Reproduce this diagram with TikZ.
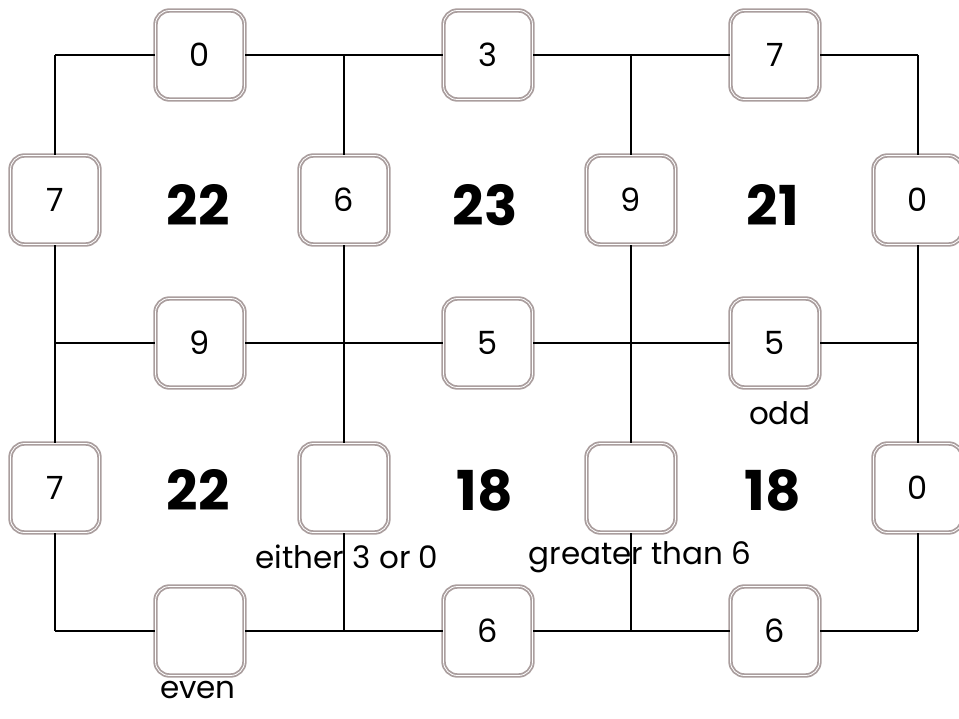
\documentclass[tikz,border=0pt]{standalone}
\usepackage{fontspec}
\setmainfont{Poppins}
\definecolor{boxgray}{RGB}{170,158,158}
\begin{document}
\begin{tikzpicture}[x=1pt,y=-1pt,
  cell/.style={draw=boxgray,double=white,line width=1.8pt,double distance=0.8pt,
    fill=white,rounded corners=14pt,minimum width=89pt,minimum height=89pt,
    inner sep=0pt,font=\fontsize{32}{32}\selectfont},
  total/.style={font=\fontsize{55}{55}\selectfont\bfseries},
  hint/.style={font=\fontsize{31}{31}\selectfont},
  wire/.style={line width=1.5pt,black}]
\useasboundingbox (0,0) rectangle (959,719);
% grid points
\foreach \i/\x in {0/55,1/344,2/631,3/918}
  \foreach \j/\y in {0/55,1/343,2/631}
    \coordinate (g\i\j) at (\x,\y);
% boxes
\node[cell] (t0) at (200,55) {0};
\node[cell] (t1) at (488,55) {3};
\node[cell] (t2) at (775,55) {7};
\node[cell] (m0) at (200,343) {9};
\node[cell] (m1) at (488,343) {5};
\node[cell] (m2) at (775,343) {5};
\node[cell] (b0) at (200,631) {};
\node[cell] (b1) at (488,631) {6};
\node[cell] (b2) at (775,631) {6};
\node[cell] (u0) at (55,200) {7};
\node[cell] (u1) at (344,200) {6};
\node[cell] (u2) at (631,200) {9};
\node[cell] (u3) at (918,200) {0};
\node[cell] (l0) at (55,488) {7};
\node[cell] (l1) at (344,488) {};
\node[cell] (l2) at (631,488) {};
\node[cell] (l3) at (918,488) {0};
% totals
\node[total] (s00) at (198,205) {22};
\node[total] (s10) at (485,205) {23};
\node[total] (s20) at (773,205) {21};
\node[total] (s01) at (198,490) {22};
\node[total] (s11) at (485,490) {18};
\node[total] (s21) at (773,490) {18};
% hints
\node[hint] (h1) at (780,413) {odd};
\node[hint] (h2) at (347,557) {either 3 or 0};
\node[hint] (h3) at (640,557) {greater than 6};
\node[hint] (h4) at (198,690) {even};
% wires
\draw[wire] (g00) -- (t0) (t0) -- (g10) -- (t1) (t1) -- (g20) -- (t2) (t2) -- (g30);
\draw[wire] (g01) -- (m0) (m0) -- (g11) -- (m1) (m1) -- (g21) -- (m2) (m2) -- (g31);
\draw[wire] (g02) -- (b0) (b0) -- (g12) -- (b1) (b1) -- (g22) -- (b2) (b2) -- (g32);
\draw[wire] (g00) -- (u0) (u0) -- (g01) -- (l0) (l0) -- (g02);
\draw[wire] (g10) -- (u1) (u1) -- (g11) -- (l1) (l1) -- (g12);
\draw[wire] (g20) -- (u2) (u2) -- (g21) -- (l2) (l2) -- (g22);
\draw[wire] (g30) -- (u3) (u3) -- (g31) -- (l3) (l3) -- (g32);
\end{tikzpicture}
\end{document}
